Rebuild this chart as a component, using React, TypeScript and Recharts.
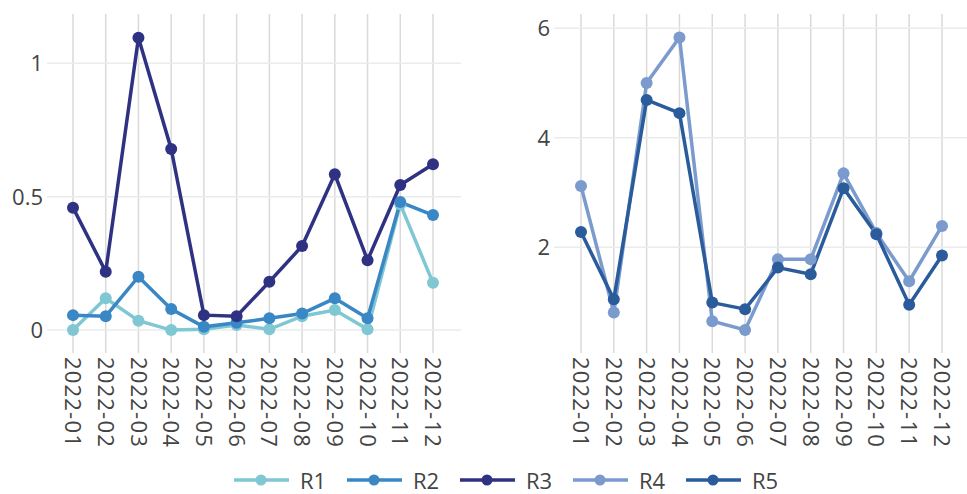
import { LineChart, Line, XAxis, YAxis, CartesianGrid } from 'recharts';

const months = [
  '2022-01', '2022-02', '2022-03', '2022-04', '2022-05', '2022-06',
  '2022-07', '2022-08', '2022-09', '2022-10', '2022-11', '2022-12',
];

const r1 = [0, 0.119, 0.035, 0, 0.003, 0.019, 0.003, 0.052, 0.075, 0.003, 0.472, 0.177];
const r2 = [0.056, 0.052, 0.2, 0.079, 0.012, 0.027, 0.044, 0.062, 0.119, 0.044, 0.48, 0.431];
const r3 = [0.459, 0.219, 1.096, 0.679, 0.056, 0.052, 0.181, 0.315, 0.584, 0.262, 0.544, 0.622];
const r4 = [3.12, 0.81, 5.0, 5.83, 0.65, 0.49, 1.78, 1.78, 3.35, 2.26, 1.38, 2.39];
const r5 = [2.28, 1.05, 4.69, 4.45, 0.99, 0.87, 1.63, 1.51, 3.08, 2.24, 0.95, 1.85];

const leftTicks = [0, 0.5, 1];
const rightTicks = [2, 4, 6];

const COLORS: Record<string, string> = {
  R1: '#7fc7d3',
  R2: '#3a87c6',
  R3: '#2f3282',
  R4: '#7b9acd',
  R5: '#2a5c9c',
};

const seriesNames = ['R1', 'R2', 'R3', 'R4', 'R5'];

const data = months.map((m, i) => ({
  month: m,
  R1: r1[i],
  R2: r2[i],
  R3: r3[i],
  R4: r4[i],
  R5: r5[i],
}));

const FONT = '"Open Sans", "DejaVu Sans", sans-serif';
const TEXT = '#444444';

function MonthTick(props: any) {
  const { x, y, payload } = props;
  return (
    <text
      x={x}
      y={y}
      transform={`rotate(90, ${x}, ${y})`}
      textAnchor="start"
      dy="0.36em"
      fill={TEXT}
      fontSize={22}
      letterSpacing={1.2}
      fontFamily={FONT}
    >
      {payload.value}
    </text>
  );
}

function Panel({
  keys,
  domain,
  ticks,
  width,
  rightMargin,
  padding,
}: {
  keys: string[];
  domain: [number, number];
  ticks: number[];
  width: number;
  rightMargin: number;
  padding: { left: number; right: number };
}) {
  return (
    <LineChart
      width={width}
      height={455}
      data={data}
      margin={{ top: 14, right: rightMargin, bottom: 0, left: 0 }}
    >
      <CartesianGrid horizontal={false} syncWithTicks stroke="#dadada" strokeWidth={1.5} />
      <CartesianGrid vertical={false} syncWithTicks stroke="#ebebeb" strokeWidth={1.5} />
      <XAxis
        dataKey="month"
        interval={0}
        padding={padding}
        axisLine={false}
        tickLine={false}
        tickSize={0}
        tickMargin={4}
        height={102}
        tick={<MonthTick />}
      />
      <YAxis
        type="number"
        domain={domain}
        ticks={ticks}
        allowDataOverflow
        width={47}
        axisLine={false}
        tickLine={false}
        tickSize={0}
        tickMargin={4}
        tick={{ fill: TEXT, fontSize: 22, fontFamily: FONT }}
      />
      {keys.map((k) => (
        <Line
          key={k}
          type="linear"
          dataKey={k}
          stroke={COLORS[k]}
          strokeWidth={3.5}
          dot={{ r: 6, fill: COLORS[k], stroke: COLORS[k], strokeWidth: 0 }}
          activeDot={false}
          isAnimationActive={false}
        />
      ))}
    </LineChart>
  );
}

export default function App() {
  return (
    <div
      style={{
        position: 'absolute',
        left: 0,
        top: 0,
        width: 967,
        height: 494,
        background: '#ffffff',
        fontFamily: FONT,
        overflow: 'hidden',
      }}
    >
      <div style={{ position: 'absolute', left: 0, top: 0 }}>
        <Panel
          keys={['R1', 'R2', 'R3']}
          domain={[-0.086, 1.185]}
          ticks={leftTicks}
          width={470}
          rightMargin={9}
          padding={{ left: 26, right: 28 }}
        />
      </div>
      <div style={{ position: 'absolute', left: 507, top: 0 }}>
        <Panel
          keys={['R4', 'R5']}
          domain={[0.07, 6.26]}
          ticks={rightTicks}
          width={460}
          rightMargin={0}
          padding={{ left: 27, right: 25 }}
        />
      </div>

      {/* Legend */}
      <div
        style={{
          position: 'absolute',
          left: 234,
          top: 465,
          display: 'flex',
          alignItems: 'center',
          height: 30,
        }}
      >
        {seriesNames.map((name) => (
          <div
            key={name}
            style={{ width: 113, display: 'flex', alignItems: 'center' }}
          >
            <svg width={55} height={14} style={{ marginRight: 11 }}>
              <line x1={0} y1={7} x2={55} y2={7} stroke={COLORS[name]} strokeWidth={3.5} />
              <circle cx={27} cy={7} r={5.5} fill={COLORS[name]} />
            </svg>
            <span style={{ fontSize: 22, color: TEXT, lineHeight: '30px' }}>{name}</span>
          </div>
        ))}
      </div>
    </div>
  );
}
